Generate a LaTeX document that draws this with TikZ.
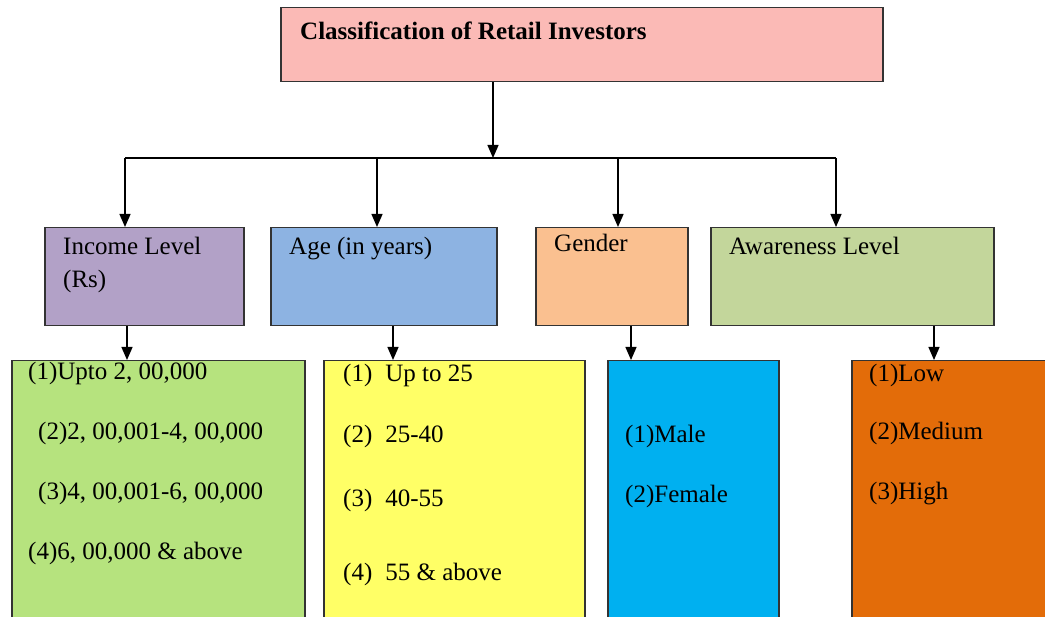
\documentclass[tikz,border=0pt]{standalone}
\usepackage{fontspec}
\setmainfont{Liberation Serif}
\usetikzlibrary{arrows.meta}
\definecolor{titlepink}{HTML}{FBBAB6}
\definecolor{incomepurple}{HTML}{B2A1C7}
\definecolor{ageblue}{HTML}{8DB3E2}
\definecolor{genderpeach}{HTML}{FAC090}
\definecolor{awaregreen}{HTML}{C3D69B}
\definecolor{listgreen}{HTML}{B6E37E}
\definecolor{listyellow}{HTML}{FFFF66}
\definecolor{listblue}{HTML}{00B0F0}
\definecolor{listorange}{HTML}{E36C09}
\begin{document}
\begin{tikzpicture}[x=1pt,y=-1pt,
  box/.style={rectangle, draw=black!80, line width=1.5pt, inner sep=0pt, anchor=north west},
  txt/.style={anchor=base west, inner sep=0pt, font=\fontsize{25}{30}\selectfont},
  arr/.style={line width=1.3pt, -{Triangle[width=11pt,length=13pt]}},
  link/.style={line width=1.3pt}]
\useasboundingbox (0,0) rectangle (1045,617);
\clip (0,0) rectangle (1045,617);
% top box
\node [box, fill=titlepink, minimum width=602pt, minimum height=74pt] (title) at (280,7) {};
\node [txt] (titletext) at (300,40) {\bfseries Classification of Retail Investors};
% second row
\node [box, fill=incomepurple, minimum width=199pt, minimum height=98pt] (income) at (44,227) {};
\node [box, fill=ageblue, minimum width=226pt, minimum height=98pt] (age) at (270,227) {};
\node [box, fill=genderpeach, minimum width=152pt, minimum height=98pt] (gender) at (535,227) {};
\node [box, fill=awaregreen, minimum width=283pt, minimum height=98pt] (aware) at (710,227) {};
\node [txt] (incometext1) at (63,255) {Income Level};
\node [txt] (incometext2) at (63,288) {(Rs)};
\node [txt] (agetext) at (289,255) {Age (in years)};
\node [txt] (gendertext) at (554,252) {Gender};
\node [txt] (awaretext) at (729,255) {Awareness Level};
% third row
\node [box, fill=listgreen, minimum width=293pt, minimum height=280pt] (incomelist) at (11,360) {};
\node [box, fill=listyellow, minimum width=261pt, minimum height=280pt] (agelist) at (323,360) {};
\node [box, fill=listblue, minimum width=171pt, minimum height=280pt] (genderlist) at (607,360) {};
\node [box, fill=listorange, minimum width=220pt, minimum height=280pt] (awarelist) at (851,360) {};
\node [txt] (inc1) at (28,380) {(1)Upto 2, 00,000};
\node [txt] (inc2) at (38,440) {(2)2, 00,001-4, 00,000};
\node [txt] (inc3) at (38,500) {(3)4, 00,001-6, 00,000};
\node [txt] (inc4) at (28,559) {(4)6, 00,000 \& above};
\node [txt] (age1) at (343,382) {(1)\hspace{13pt}Up to 25};
\node [txt] (age2) at (343,443) {(2)\hspace{13pt}25-40};
\node [txt] (age3) at (343,507) {(3)\hspace{13pt}40-55};
\node [txt] (age4) at (343,580) {(4)\hspace{13pt}55 \& above};
\node [txt] (gen1) at (625,443) {(1)Male};
\node [txt] (gen2) at (625,503) {(2)Female};
\node [txt] (aw1) at (869,382) {(1)Low};
\node [txt] (aw2) at (869,440) {(2)Medium};
\node [txt] (aw3) at (869,500) {(3)High};
% connectors
\coordinate (top) at (493,158);
\coordinate (b1) at (125,158);
\coordinate (b2) at (377,158);
\coordinate (b3) at (618,158);
\coordinate (b4) at (836,158);
\draw [arr] (top |- title.south) -- (top);
\draw [link] (b1) -- (b4);
\draw [arr] (b1) -- (b1 |- income.north);
\draw [arr] (b2) -- (b2 |- age.north);
\draw [arr] (b3) -- (b3 |- gender.north);
\draw [arr] (b4) -- (b4 |- aware.north);
\coordinate (t1) at (127,360);
\coordinate (t2) at (393,360);
\coordinate (t3) at (631,360);
\coordinate (t4) at (934,360);
\draw [arr] (t1 |- income.south) -- (t1 |- incomelist.north);
\draw [arr] (t2 |- age.south) -- (t2 |- agelist.north);
\draw [arr] (t3 |- gender.south) -- (t3 |- genderlist.north);
\draw [arr] (t4 |- aware.south) -- (t4 |- awarelist.north);
\end{tikzpicture}
\end{document}
